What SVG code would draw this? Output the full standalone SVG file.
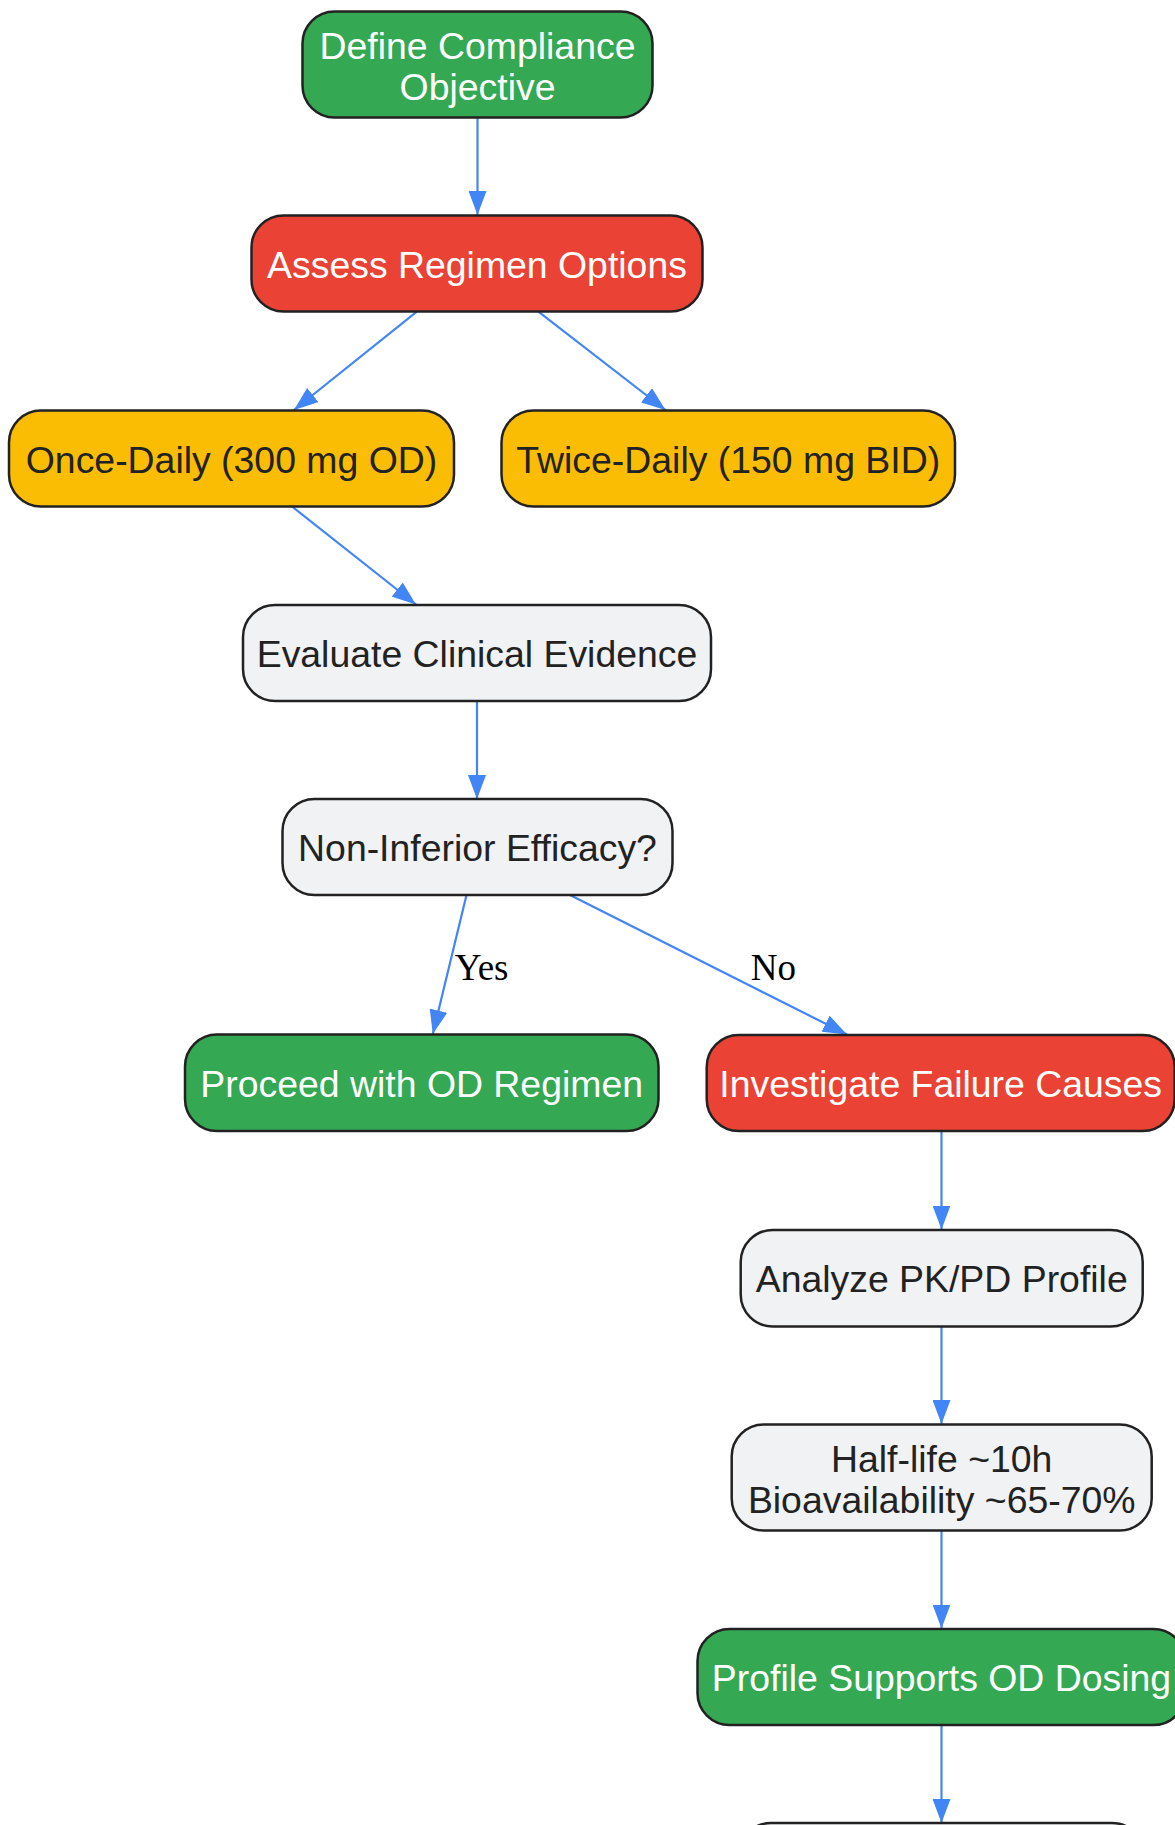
<svg xmlns="http://www.w3.org/2000/svg" width="1175" height="1825" viewBox="0 0 1175 1825">
<style>
.n rect{stroke:#222222;stroke-width:2.5}
.g rect{fill:#34a853}
.r rect{fill:#ea4335}
.y rect{fill:#fbbc04}
.w rect{fill:#f1f2f4}
.n text{font-family:"Liberation Sans",Arial,sans-serif;font-size:37.4px;text-anchor:middle}
.g text,.r text{fill:#ffffff}
.y text,.w text{fill:#222222}
.e path{fill:none;stroke:#4285f4;stroke-width:2.2}
.lbl{font-family:"Liberation Serif","Times New Roman",serif;font-size:37px;text-anchor:middle;fill:#000000}
</style>
<defs>
<marker id="ah" markerUnits="userSpaceOnUse" markerWidth="24" markerHeight="18" refX="24" refY="9" orient="auto">
<path d="M0,0 L24,9 L0,18 z" fill="#4285f4"/>
</marker>
</defs>
<rect width="1175" height="1825" fill="#ffffff"/>
<g id="edges" class="e">
<path d="M477.5,117.5 L477.5,215" marker-end="url(#ah)"/>
<path d="M416.5,311.8 L294,410" marker-end="url(#ah)"/>
<path d="M538.7,311.8 L665.5,410" marker-end="url(#ah)"/>
<path d="M292,506.5 L416,604.5" marker-end="url(#ah)"/>
<path d="M477,701 L477,799" marker-end="url(#ah)"/>
<path d="M466.5,895 L432.8,1034" marker-end="url(#ah)"/>
<path d="M570,895 L847,1034.5" marker-end="url(#ah)"/>
<path d="M941.5,1131 L941.5,1229.5" marker-end="url(#ah)"/>
<path d="M941.5,1326.5 L941.5,1424" marker-end="url(#ah)"/>
<path d="M941.5,1530.5 L941.5,1628.5" marker-end="url(#ah)"/>
<path d="M941.5,1725 L941.5,1823" marker-end="url(#ah)"/>
<text class="lbl" x="481.6" y="979.5">Yes</text>
<text class="lbl" x="773.4" y="979.5">No</text>
</g>
<g id="define" class="n g"><rect x="302.5" y="11.5" width="350" height="106" rx="32"/><text x="477.5" y="59">Define Compliance</text><text x="477.5" y="100">Objective</text></g>
<g id="assess" class="n r"><rect x="251.5" y="215.5" width="451" height="96" rx="32"/><text x="477" y="278">Assess Regimen Options</text></g>
<g id="once" class="n y"><rect x="9" y="410.5" width="445" height="96" rx="32"/><text x="231.5" y="472.5">Once-Daily (300 mg OD)</text></g>
<g id="twice" class="n y"><rect x="501.5" y="410.5" width="453.5" height="96" rx="32"/><text x="728.2" y="472.5">Twice-Daily (150 mg BID)</text></g>
<g id="evaluate" class="n w"><rect x="243" y="605" width="468" height="96" rx="32"/><text x="477" y="667">Evaluate Clinical Evidence</text></g>
<g id="noninferior" class="n w"><rect x="282.5" y="799" width="390" height="96" rx="32"/><text x="477.5" y="861">Non-Inferior Efficacy?</text></g>
<g id="proceed" class="n g"><rect x="185" y="1034.5" width="473.5" height="96.5" rx="32"/><text x="421.7" y="1097">Proceed with OD Regimen</text></g>
<g id="investigate" class="n r"><rect x="706.7" y="1035" width="468" height="96" rx="32"/><text x="940.7" y="1097">Investigate Failure Causes</text></g>
<g id="analyze" class="n w"><rect x="740.7" y="1230" width="402" height="96.5" rx="32"/><text x="941.7" y="1292">Analyze PK/PD Profile</text></g>
<g id="halflife" class="n w"><rect x="731.7" y="1424.5" width="420" height="106" rx="32"/><text x="941.7" y="1471.5">Half-life ~10h</text><text x="941.7" y="1512.5">Bioavailability ~65-70%</text></g>
<g id="profile" class="n g"><rect x="697.5" y="1629" width="488" height="96" rx="32"/><text x="941.5" y="1691">Profile Supports OD Dosing</text></g>
<g id="final" class="n w"><rect x="739" y="1823" width="405" height="96" rx="32"/></g>
</svg>
